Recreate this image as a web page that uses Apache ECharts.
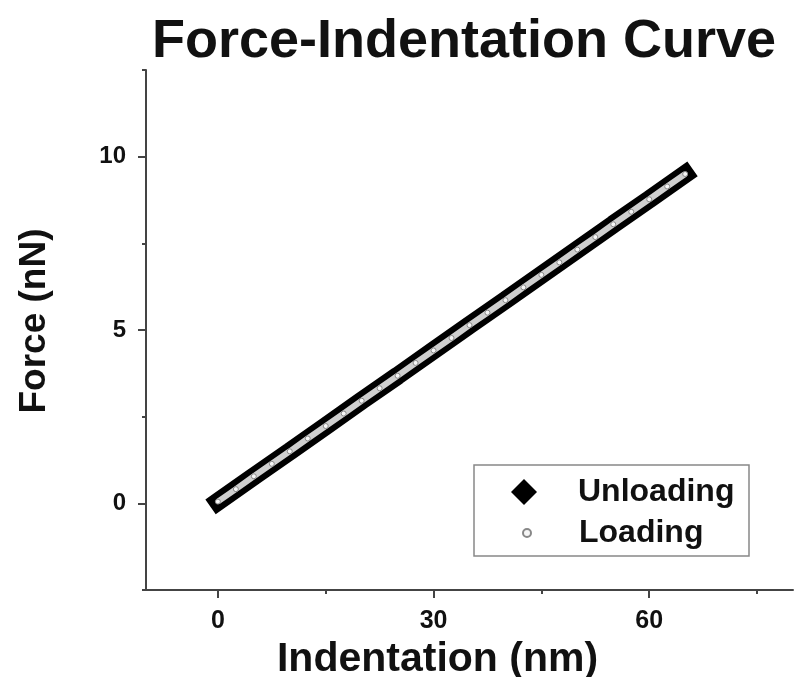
<!DOCTYPE html>
<html>
<head>
<meta charset="utf-8">
<script src="https://cdn.jsdelivr.net/npm/echarts@6/dist/echarts.min.js"></script>
<style>
  html, body { margin: 0; padding: 0; background: #fff; }
  #chart { width: 795px; height: 677px; }
</style>
</head>
<body>
<div id="chart"></div>
<script>
// values
const unloadX = [0, 5, 10, 15, 20, 25, 30, 35, 40, 45, 50, 55, 60, 65];
const unloadY = [0.05, 0.78, 1.5, 2.23, 2.96, 3.68, 4.41, 5.14, 5.86, 6.59, 7.32, 8.05, 8.77, 9.5];

const loadX = [0, 2.5, 5, 7.5, 10, 12.5, 15, 17.5, 20, 22.5, 25, 27.5, 30, 32.5,
  35, 37.5, 40, 42.5, 45, 47.5, 50, 52.5, 55, 57.5, 60, 62.5, 65];
const loadY = [0.05, 0.41, 0.78, 1.14, 1.5, 1.87, 2.23, 2.59, 2.96, 3.32, 3.68, 4.05, 4.41, 4.77,
  5.14, 5.5, 5.86, 6.23, 6.59, 6.95, 7.32, 7.68, 8.05, 8.41, 8.77, 9.14, 9.5];

const xTicks = [0, 30, 60];
const xMinorTicks = [15, 45, 75];
const yTicks = [0, 5, 10];
const yMinorTicks = [-2.5, 2.5, 7.5, 12.5];

const FONT = 'Liberation Sans';
const AXIS_COLOR = '#444';

function pairs(xs, ys) {
  return xs.map((x, i) => [x, ys[i]]);
}

const chart = echarts.init(document.getElementById('chart'));

chart.setOption({
  animation: false,
  backgroundColor: '#fff',
  title: {
    text: 'Force-Indentation Curve',
    left: 459,
    textAlign: 'center',
    top: 10,
    textStyle: { fontFamily: FONT, fontSize: 54, fontWeight: 'bold', color: '#111' }
  },
  grid: { left: 146, right: 2, top: 70, bottom: 87, containLabel: false, outerBoundsMode: 'none' },
  xAxis: [{
    type: 'value',
    min: -10,
    max: 80,
    name: 'Indentation (nm)',
    nameLocation: 'middle',
    nameGap: 34,
    nameTextStyle: { fontFamily: FONT, fontSize: 41, fontWeight: 'bold', color: '#111', padding: [0, 64, 0, 0] },
    axisLine: { show: true, onZero: false, lineStyle: { color: AXIS_COLOR, width: 2 } },
    axisTick: { show: true, customValues: xTicks, length: 8, lineStyle: { color: AXIS_COLOR, width: 2 } },
    axisLabel: { customValues: xTicks, margin: 19, fontFamily: FONT, fontSize: 25, fontWeight: 'bold', color: '#111' },
    splitLine: { show: false }
  }, {
    type: 'value',
    min: -10,
    max: 80,
    position: 'bottom',
    axisLine: { show: false, onZero: false },
    axisTick: { show: true, customValues: xMinorTicks, length: 4, lineStyle: { color: AXIS_COLOR, width: 2 } },
    axisLabel: { show: false },
    splitLine: { show: false }
  }],
  yAxis: [{
    type: 'value',
    min: -2.5,
    max: 12.5,
    name: 'Force (nN)',
    nameLocation: 'middle',
    nameGap: 93,
    nameTextStyle: { fontFamily: FONT, fontSize: 37, fontWeight: 'bold', color: '#111', padding: [0, 0, 0, 18] },
    axisLine: { show: true, onZero: false, lineStyle: { color: AXIS_COLOR, width: 2 } },
    axisTick: { show: true, customValues: yTicks, length: 8, lineStyle: { color: AXIS_COLOR, width: 2 } },
    axisLabel: { customValues: yTicks, margin: 20, fontFamily: FONT, fontSize: 24, fontWeight: 'bold', color: '#111' },
    splitLine: { show: false }
  }, {
    type: 'value',
    min: -2.5,
    max: 12.5,
    position: 'left',
    axisLine: { show: false, onZero: false },
    axisTick: { show: true, customValues: yMinorTicks, length: 4, lineStyle: { color: AXIS_COLOR, width: 2 } },
    axisLabel: { show: false },
    splitLine: { show: false }
  }],
  legend: [{
    data: [{ name: 'Unloading', icon: 'diamond' }],
    left: 511,
    top: 476,
    padding: 0,
    itemWidth: 26,
    itemHeight: 26,
    selectedMode: false,
    textStyle: { fontFamily: FONT, fontSize: 32, fontWeight: 'bold', color: '#111', lineHeight: 32, padding: [0, 0, 0, 36] }
  }, {
    data: [{ name: 'Loading', icon: 'circle' }],
    left: 522,
    top: 517,
    padding: 0,
    itemWidth: 8,
    itemHeight: 8,
    selectedMode: false,
    textStyle: { fontFamily: FONT, fontSize: 32, fontWeight: 'bold', color: '#111', lineHeight: 32, padding: [0, 0, 0, 43] }
  }],
  graphic: [{
    type: 'rect',
    shape: { x: 474, y: 465, width: 275, height: 91 },
    style: { fill: 'none', stroke: '#888', lineWidth: 1.5 },
    z: 100
  }],
  series: [{
    name: 'Unloading',
    type: 'line',
    data: pairs(unloadX, unloadY),
    symbol: 'diamond',
    showSymbol: false,
    itemStyle: { color: '#000' },
    lineStyle: { color: '#000', width: 18, cap: 'square' },
    z: 2
  }, {
    name: 'Loading',
    type: 'line',
    data: pairs(loadX, loadY),
    symbol: 'circle',
    symbolSize: 5,
    showSymbol: true,
    itemStyle: { color: '#f6f6f6', borderColor: '#888', borderWidth: 1 },
    lineStyle: { color: '#cfcfcf', width: 6 },
    z: 3
  }]
});
</script>
</body>
</html>
